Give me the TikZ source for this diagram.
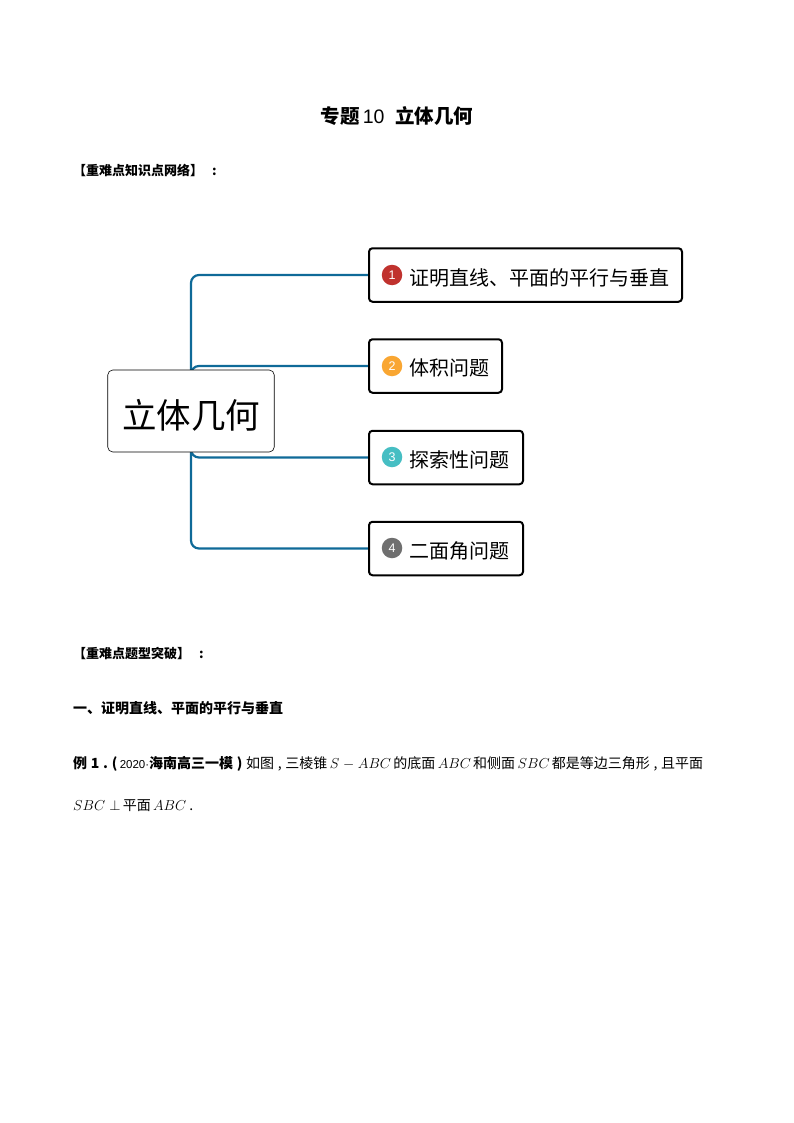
\documentclass[tikz,border=0pt]{standalone}
\usepackage{fontspec}
\setmainfont{Liberation Sans}
\newfontfamily\cjk{Noto Sans CJK SC}
\usetikzlibrary{backgrounds}
\definecolor{branchblue}{HTML}{0F6A98}
\definecolor{badgered}{HTML}{C0322E}
\definecolor{badgeorange}{HTML}{F9A632}
\definecolor{badgeteal}{HTML}{46BEC3}
\definecolor{badgegray}{HTML}{6F6F6F}
\tikzset{
  topicbox/.style={draw=black,line width=2pt,rounded corners=3.5pt,fill=white,minimum height=53.5pt,anchor=west,inner sep=0pt},
  rootbox/.style={draw=black,line width=0.6pt,rounded corners=5pt,fill=white,minimum width=166.5pt,minimum height=82pt,font=\cjk\fontsize{34.5}{40}\selectfont},
  badge/.style={circle,minimum size=20.5pt,inner sep=0pt,text=white,font=\fontsize{12.5}{14}\selectfont},
  topiclabel/.style={anchor=west,inner sep=0pt,font=\cjk\fontsize{20}{24}\selectfont},
  branch/.style={draw=branchblue,line width=2.2pt,rounded corners=8pt},
  headline/.style={anchor=west,inner sep=0pt,font=\cjk\bfseries\fontsize{13}{16}\selectfont},
  bodyline/.style={anchor=west,inner sep=0pt,font=\cjk\fontsize{14}{16}\selectfont}
}
\begin{document}
\begin{tikzpicture}[x=1pt,y=-1pt]
        \useasboundingbox (0,0) rectangle (794,1123);

        \node[inner sep=0pt,font=\fontsize{19.5}{22}\selectfont] (title) at (397,116)
          {{\cjk\bfseries 专题}\,10\ \ {\cjk\bfseries 立体几何}};
        \node[headline] (net) at (73,170) {【重难点知识点网络】\hspace{9pt}:};

        \node[rootbox] (root) at (191,411) {\raisebox{-17pt}[0pt][0pt]{立体几何}};

        \begin{scope}[every node/.style={topicbox}]
          \node[minimum width=313pt] (box1) at (368,275) {};
          \node[minimum width=133pt] (box2) at (368,366) {};
          \node[minimum width=154pt] (box3) at (368,457.5) {};
          \node[minimum width=154pt] (box4) at (368,548.5) {};
        \end{scope}

        \begin{scope}[on background layer]
          \draw[branch] (root.center) |- (box1.west);
          \draw[branch] (root.center) |- (box2.west);
          \draw[branch] (root.center) |- (box3.west);
          \draw[branch] (root.center) |- (box4.west);
        \end{scope}

        \node[badge,fill=badgered]    (b1) at (392,275) {1};
        \node[badge,fill=badgeorange] (b2) at (392,366) {2};
        \node[badge,fill=badgeteal]   (b3) at (392,457) {3};
        \node[badge,fill=badgegray]   (b4) at (392,548) {4};

        \node[topiclabel] (t1) at (409,278) {证明直线、平面的平行与垂直};
        \node[topiclabel] (t2) at (409,368) {体积问题};
        \node[topiclabel] (t3) at (409,460) {探索性问题};
        \node[topiclabel] (t4) at (409,551) {二面角问题};

        \node[headline] (drill) at (73,654) {【重难点题型突破】\hspace{9pt}:};
        \node[headline,font=\cjk\bfseries\fontsize{14}{16}\selectfont] (sec) at (73,708) {一、证明直线、平面的平行与垂直};

        \node[bodyline] (ex1) at (73,764) {\makebox[630pt][s]{{\bfseries 例\ 1\ .\ (\,}{\rmfamily\fontsize{11.5}{14}\selectfont 2020·}{\bfseries 海南高三一模\ )}\ 如图\ ,\ 三棱锥\,$S-ABC$\,的底面\,$ABC$\,和侧面\,$SBC$\,都是等边三角形\ ,\ 且平面}};
        \node[bodyline] (ex2) at (73,806) {$SBC\perp$\,平面\,$ABC$\ .};

      \end{tikzpicture}
\end{document}
